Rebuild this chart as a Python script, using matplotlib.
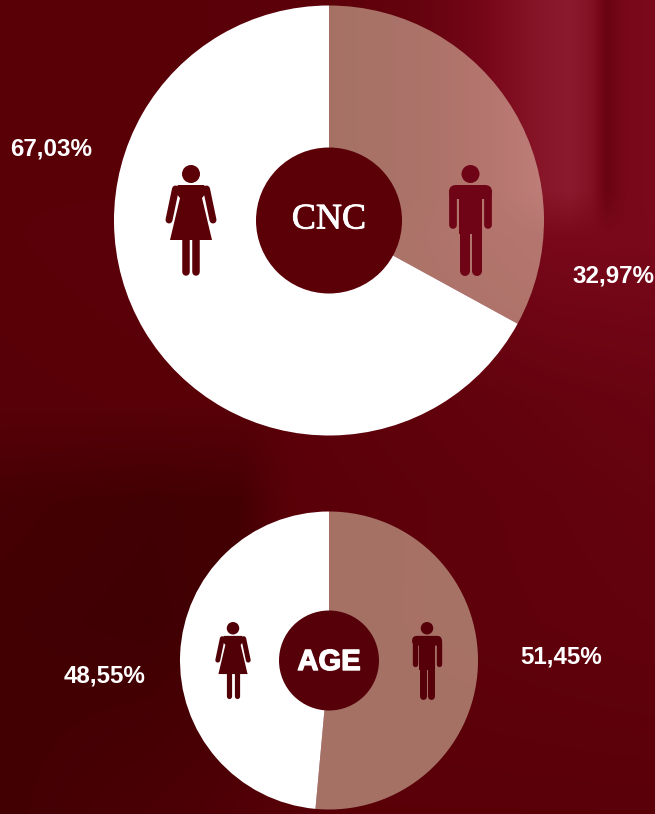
import numpy as np
import matplotlib
matplotlib.use("Agg")
import matplotlib.pyplot as plt
from matplotlib.patches import Circle, Polygon, FancyBboxPatch
from matplotlib.colors import LinearSegmentedColormap
import matplotlib.patheffects as pe

plt.rcParams['font.family'] = ['Liberation Sans', 'DejaVu Sans']

# Dados
categorias = ['Homens', 'Mulheres']
cnc_valores = [32.97, 67.03]
age_valores = [51.45, 48.55]
cnc_rotulos = ['32,97%', '67,03%']
age_rotulos = ['51,45%', '48,55%']

LARGURA = 655
ALTURA = 814


def fundo():
    # fundo vinho com as "cortinas" em cima a direita e a mancha escura embaixo
    x = np.arange(LARGURA)
    y = np.arange(ALTURA)
    linhas = [
        (0, [0, 200, 330, 420, 480, 540, 570, 590, 606, 625, 655],
            [.33, .33, .36, .46, .62, .92, 1.0, .85, .5, .66, .7]),
        (190, [0, 200, 330, 420, 480, 540, 570, 590, 606, 625, 655],
              [.33, .33, .36, .46, .62, .92, 1.0, .85, .5, .66, .7]),
        (235, [0, 330, 450, 550, 655], [.33, .36, .55, .68, .68]),
        (400, [0, 240, 655], [.32, .33, .50]),
        (500, [0, 150, 240, 290, 655], [.12, .08, .10, .33, .45]),
        (620, [0, 150, 240, 290, 440, 655], [.09, .06, .12, .33, .38, .42]),
        (814, [0, 200, 330, 655], [.09, .20, .33, .33]),
    ]
    ys = [l[0] for l in linhas]
    perfis = np.array([np.interp(x, l[1], l[2]) for l in linhas])
    return np.array([[np.interp(v, ys, perfis[:, j]) for j in range(LARGURA)] for v in y])


def mulher(ax, cx, topo, s, cor):
    # boneco feminino, medidas em pixels a partir do centro da cabeca
    cy = topo + 9 * s
    ax.add_patch(Circle((cx, cy), 9 * s, color=cor, lw=0, zorder=5))
    corpo = [(-13, 11), (13, 11), (17, 17), (11, 24), (21, 66), (-21, 66), (-11, 24), (-17, 17)]
    pts = [(cx + a * s, cy + b * s) for a, b in corpo]
    ax.add_patch(Polygon(pts, closed=True, color=cor, lw=0, zorder=5))
    for lado in (-1, 1):
        # braco
        ax.plot([cx + lado * 15.5 * s, cx + lado * 22 * s],
                [cy + 15 * s, cy + 46 * s], color=cor, lw=7 * s * 0.72,
                solid_capstyle='round', zorder=5)
        # perna
        ax.plot([cx + lado * 5.3 * s, cx + lado * 5.3 * s],
                [cy + 60 * s, cy + 98 * s], color=cor, lw=7.5 * s * 0.72,
                solid_capstyle='round', zorder=5)


def homem(ax, cx, topo, s, cor):
    cy = topo + 9 * s
    ax.add_patch(Circle((cx, cy), 9 * s, color=cor, lw=0, zorder=5))
    # ombros arredondados
    ax.add_patch(FancyBboxPatch((cx - 14.5 * s, cy + 18 * s), 29 * s, 0.01,
                                boxstyle=f"round,pad={7 * s},rounding_size={7 * s}",
                                color=cor, lw=0, zorder=5))
    ax.add_patch(Polygon([(cx - 11.5 * s, cy + 20 * s), (cx + 11.5 * s, cy + 20 * s),
                          (cx + 11.5 * s, cy + 60 * s), (cx - 11.5 * s, cy + 60 * s)],
                         closed=True, color=cor, lw=0, zorder=5))
    for lado in (-1, 1):
        ax.plot([cx + lado * 17.8 * s, cx + lado * 17.8 * s],
                [cy + 18 * s, cy + 51 * s], color=cor, lw=7.7 * s * 0.72,
                solid_capstyle='round', zorder=5)
        ax.plot([cx + lado * 6 * s, cx + lado * 6 * s],
                [cy + 50 * s, cy + 97 * s], color=cor, lw=10 * s * 0.72,
                solid_capstyle='round', zorder=5)


def rosca(ax, valores, cx, cy, raio, raio_furo, cor_furo):
    # o eixo y esta invertido, entao o sentido anti-horario vira horario na tela
    wedges, _ = ax.pie(valores, startangle=-90, counterclock=True, center=(cx, cy),
                       radius=raio, colors=['#fff8d4', 'white'], frame=True)
    wedges[0].set_alpha(0.46)
    for w in wedges:
        w.set_linewidth(0)
    ax.add_patch(Circle((cx, cy), raio_furo, color=cor_furo, lw=0, zorder=4))


fig = plt.figure(figsize=(6.55, 8.14), dpi=100)
ax = fig.add_axes([0, 0, 1, 1])

cmap = LinearSegmentedColormap.from_list('vinho', ['#3a0002', '#5a0008', '#78081a', '#8c1a2e'])
ax.imshow(fundo(), cmap=cmap, vmin=0, vmax=1, extent=[0, LARGURA, ALTURA, 0],
          zorder=-1, aspect='auto', interpolation='bilinear')

rosca(ax, cnc_valores, 329, 220.5, 215, 73, '#5c0008')
rosca(ax, age_valores, 329, 660.5, 149, 50, '#56000a')
ax.set_xlim(0, LARGURA)
ax.set_ylim(ALTURA, 0)
ax.set_aspect('auto')
ax.axis('off')

mulher(ax, 191, 165, 1.0, '#5c0008')
homem(ax, 470.5, 165, 1.0, '#6e0415')
mulher(ax, 233, 622, 0.694, '#500006')
homem(ax, 427, 622, 0.694, '#56000a')

ax.text(329, 220, 'CNC', color='white', fontsize=26, family=['Liberation Serif'],
        ha='center', va='center', zorder=7,
        path_effects=[pe.withStroke(linewidth=0.6, foreground='white')])
ax.text(329, 662, 'AGE', color='white', fontsize=21, fontweight='bold', ha='center',
        va='center', zorder=7, path_effects=[pe.withStroke(linewidth=1.0, foreground='white')])

fonte = dict(color='white', fontsize=17.4, fontweight='bold', ha='center', va='center', zorder=7)
ax.text(613, 276, cnc_rotulos[0], **fonte)
ax.text(51, 149, cnc_rotulos[1], **fonte)
ax.text(561, 657, age_rotulos[0], **fonte)
ax.text(104.5, 676, age_rotulos[1], **fonte)

fig.savefig('out.png', dpi=100)
